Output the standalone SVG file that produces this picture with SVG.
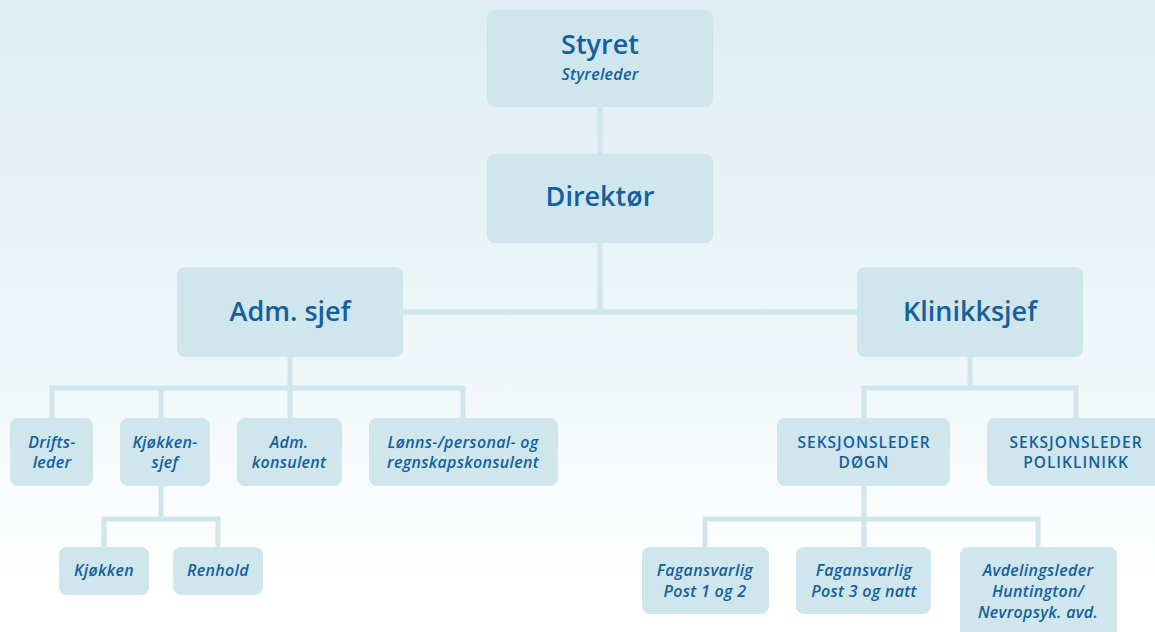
<svg xmlns="http://www.w3.org/2000/svg" width="1155" height="632" viewBox="0 0 1155 632">
<defs>
<linearGradient id="bg" x1="0" y1="0" x2="0" y2="1">
<stop offset="0" stop-color="#dfeef4"/>
<stop offset="0.55" stop-color="#eef6f9"/>
<stop offset="0.92" stop-color="#ffffff"/>
</linearGradient>
<style>
.box{fill:#cfe6ec}
.ln{stroke:#cfe6ec;stroke-width:5;fill:none}
text{font-family:"Open Sans","Noto Sans",sans-serif;fill:#155f9e;text-anchor:middle;font-weight:600}
.big{font-size:27px}
.it{font-size:16px;font-style:italic;letter-spacing:0.3px}
.cap{font-size:15.5px;letter-spacing:1px}
</style>
</defs>
<rect width="1155" height="632" fill="url(#bg)"/>
<g id="connectors">
<line class="ln" x1="600" y1="107" x2="600" y2="154"/>
<line class="ln" x1="600" y1="243" x2="600" y2="312"/>
<line class="ln" x1="403" y1="312" x2="857" y2="312"/>
<line class="ln" x1="290" y1="357" x2="290" y2="418"/>
<polyline class="ln" points="52,418 52,388 463,388 463,418"/>
<line class="ln" x1="161" y1="388" x2="161" y2="418"/>
<line class="ln" x1="161" y1="486" x2="161" y2="519"/>
<polyline class="ln" points="104,547 104,519 218,519 218,547"/>
<line class="ln" x1="970" y1="357" x2="970" y2="388"/>
<polyline class="ln" points="864,418 864,388 1076,388 1076,418"/>
<line class="ln" x1="864" y1="486" x2="864" y2="547"/>
<polyline class="ln" points="705,547 705,519 1038,519 1038,547"/>
</g>
<g id="styret"><rect class="box" x="487" y="10" width="226" height="97" rx="8"/><text class="big" x="600" y="54">Styret</text><text class="it" x="600" y="80">Styreleder</text></g>
<g id="direktor"><rect class="box" x="487" y="154" width="226" height="89" rx="8"/><text class="big" x="600" y="206">Direktør</text></g>
<g id="admsjef"><rect class="box" x="177" y="267" width="226" height="90" rx="8"/><text class="big" x="290" y="321">Adm. sjef</text></g>
<g id="klinikksjef"><rect class="box" x="857" y="267" width="226" height="90" rx="8"/><text class="big" x="970" y="321">Klinikksjef</text></g>
<g id="driftsleder"><rect class="box" x="10" y="418" width="83" height="68" rx="8"/><text class="it" x="52" y="448">Drifts-</text><text class="it" x="52" y="468">leder</text></g>
<g id="kjokkensjef"><rect class="box" x="120" y="418" width="90" height="68" rx="8"/><text class="it" x="165" y="448">Kjøkken-</text><text class="it" x="165" y="468">sjef</text></g>
<g id="admkonsulent"><rect class="box" x="237" y="418" width="105" height="68" rx="8"/><text class="it" x="289" y="448">Adm.</text><text class="it" x="289" y="468">konsulent</text></g>
<g id="lonns"><rect class="box" x="369" y="418" width="189" height="68" rx="8"/><text class="it" x="463" y="448">Lønns-/personal- og</text><text class="it" x="463" y="468">regnskapskonsulent</text></g>
<g id="kjokken"><rect class="box" x="59" y="547" width="90" height="48" rx="8"/><text class="it" x="104" y="576">Kjøkken</text></g>
<g id="renhold"><rect class="box" x="173" y="547" width="90" height="48" rx="8"/><text class="it" x="218" y="576">Renhold</text></g>
<g id="seksjondogn"><rect class="box" x="777" y="418" width="173" height="68" rx="8"/><text class="cap" x="864" y="448">SEKSJONSLEDER</text><text class="cap" x="864" y="468">DØGN</text></g>
<g id="seksjonpoli"><rect class="box" x="987" y="418" width="180" height="68" rx="8"/><text class="cap" x="1076" y="448">SEKSJONSLEDER</text><text class="cap" x="1076" y="468">POLIKLINIKK</text></g>
<g id="fag12"><rect class="box" x="642" y="547" width="127" height="67" rx="8"/><text class="it" x="705" y="576">Fagansvarlig</text><text class="it" x="705" y="597">Post 1 og 2</text></g>
<g id="fag3"><rect class="box" x="796" y="547" width="135" height="67" rx="8"/><text class="it" x="864" y="576">Fagansvarlig</text><text class="it" x="864" y="597">Post 3 og natt</text></g>
<g id="avdleder"><rect class="box" x="960" y="547" width="157" height="95" rx="8"/><text class="it" x="1038" y="576">Avdelingsleder</text><text class="it" x="1038" y="597">Huntington/</text><text class="it" x="1038" y="618">Nevropsyk. avd.</text></g>
</svg>
